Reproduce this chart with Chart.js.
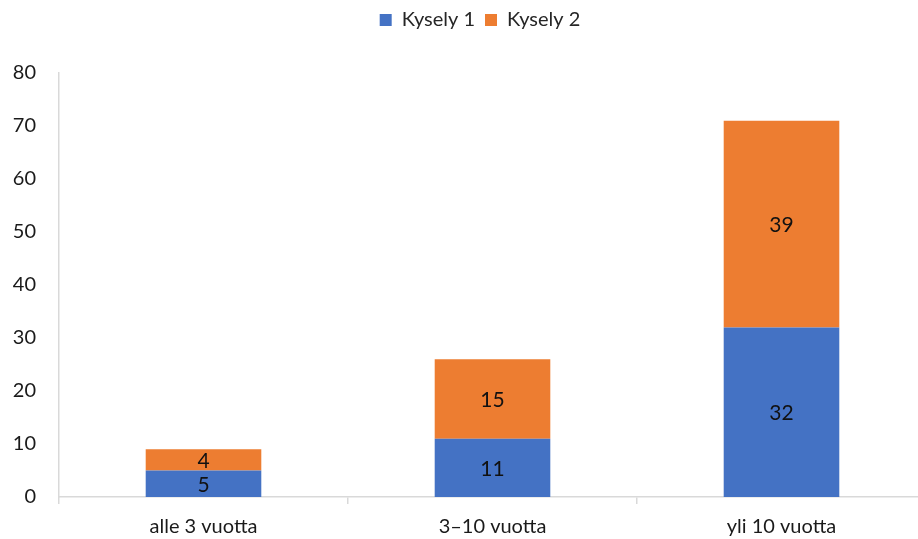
<!DOCTYPE html>
<html>
<head>
<meta charset="utf-8">
<script src="https://cdn.jsdelivr.net/npm/chart.js@4"></script>
<style>
  html, body { margin: 0; padding: 0; overflow: hidden; background: #fff; }
  #wrap { width: 960px; height: 539px; }
</style>
</head>
<body>
<div id="wrap"><canvas id="tenureChart"></canvas></div>
<script>
// Survey answers by length of experience
const categories = ['alle 3 vuotta', '3–10 vuotta', 'yli 10 vuotta'];
const survey1 = [5, 11, 32];
const survey2 = [4, 15, 39];
const yTicks = [0, 10, 20, 30, 40, 50, 60, 70, 80];

// Writes each segment's value in the middle of the segment
const valueLabels = {
    id: 'valueLabels',
    afterDatasetsDraw(chart) {
        const ctx = chart.ctx;
        ctx.save();
        ctx.font = '21px Lato';
        ctx.fillStyle = '#111';
        ctx.textAlign = 'center';
        ctx.textBaseline = 'middle';
        chart.data.datasets.forEach((ds, i) => {
            chart.getDatasetMeta(i).data.forEach((bar, j) => {
                ctx.fillText(ds.data[j], bar.x, (bar.y + bar.base) / 2 + 1);
            });
        });
        ctx.restore();
    }
};

// Extra room between the legend and the plot
const legendGap = {
    id: 'legendGap',
    beforeInit(chart) {
        const fit = chart.legend.fit;
        chart.legend.fit = function () {
            fit.call(this);
            this.height += 33;
        };
    }
};

const axisGrey = '#d9d9d9';

const ctx = document.getElementById('tenureChart').getContext('2d');
const tenureChart = new Chart(ctx, {
    type: 'bar',
    data: {
        labels: categories,
        datasets: [
            { label: 'Kysely 1', data: survey1, backgroundColor: '#4472c4' },
            { label: 'Kysely 2', data: survey2, backgroundColor: '#ed7d31' },
        ],
    },
    options: {
        responsive: true,
        maintainAspectRatio: false,
        animation: false,
        categoryPercentage: 1,
        barPercentage: 0.4,
        layout: { padding: { top: 0, bottom: 0 } },
        scales: {
            x: {
                stacked: true,
                offset: true,
                afterFit: (scale) => { scale.height = 42; },
                border: { display: true, color: axisGrey, width: 1.5 },
                grid: {
                    offset: true,
                    drawOnChartArea: false,
                    drawTicks: true,
                    tickLength: 7,
                    color: axisGrey,
                    lineWidth: 1.5,
                },
                ticks: { color: '#1a1a1a', font: { family: 'Lato', size: 20 }, padding: 11 },
            },
            y: {
                stacked: true,
                min: 0,
                max: 80,
                afterBuildTicks: (scale) => { scale.ticks = yTicks.map(v => ({ value: v })); },
                afterFit: (scale) => { scale.width = 59; },
                border: { display: true, color: axisGrey, width: 1.5 },
                grid: { display: false, drawTicks: false },
                ticks: { color: '#1a1a1a', font: { family: 'Lato', size: 20 }, padding: 23 },
            },
            yRight: {
                position: 'right',
                afterFit: (scale) => { scale.width = 34; },
                border: { display: false },
                grid: { display: false },
                ticks: { display: false },
            },
        },
        plugins: {
            legend: {
                position: 'top',
                labels: {
                    boxWidth: 12,
                    boxHeight: 12,
                    padding: 10,
                    color: '#262626',
                    font: { family: 'Lato', size: 20 },
                },
            },
            tooltip: { enabled: false },
        },
    },
    plugins: [valueLabels, legendGap],
});
</script>
</body>
</html>
